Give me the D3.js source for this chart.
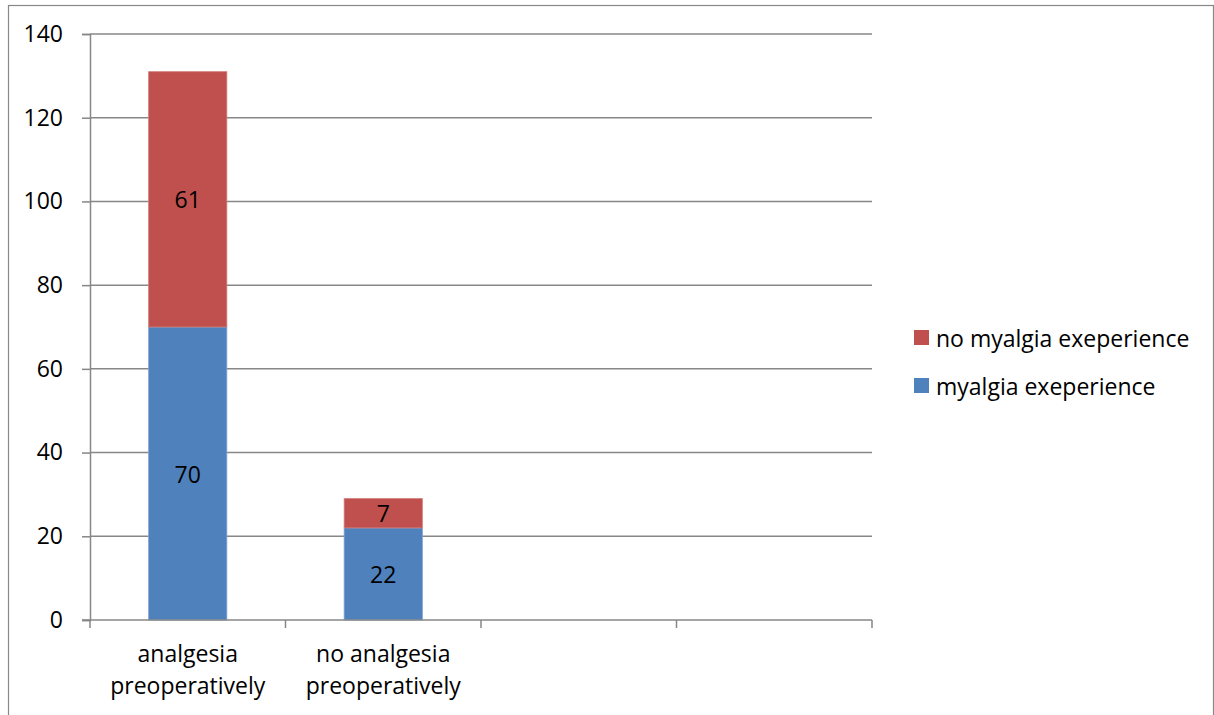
<!DOCTYPE html>
<html>
<head>
<meta charset="utf-8">
<script src="https://cdn.jsdelivr.net/npm/d3@7"></script>
<style>
  html, body { margin: 0; padding: 0; background: #fff; overflow: hidden; }
  svg { display: block; }
  text { font-family: "Open Sans", "Liberation Sans", sans-serif; fill: #000; }
</style>
</head>
<body>
<svg id="chart" width="1214" height="715"></svg>
<script>
// ---- data ----
const categories = ["analgesia preoperatively", "no analgesia preoperatively", "", ""];
const categoryLines = [["analgesia", "preoperatively"], ["no analgesia", "preoperatively"], [], []];
const myalgia = [70, 22, null, null];        // "myalgia exeperience"
const noMyalgia = [61, 7, null, null];       // "no myalgia exeperience"
const seriesNames = ["myalgia exeperience", "no myalgia exeperience"];
const seriesColors = ["#4F81BD", "#C0504D"];
const yTicks = [0, 20, 40, 60, 80, 100, 120, 140];

// ---- layout ----
const svg = d3.select("#chart");
const plot = { left: 90, right: 872, top: 34, bottom: 620 };
const gridColor = "#878787";
const fontSize = 23;

// outer chart border
svg.append("rect")
  .attr("x", 8.5).attr("y", 5.5)
  .attr("width", 1205).attr("height", 730)
  .attr("fill", "none").attr("stroke", "#888").attr("stroke-width", 1.2);

const idx = categories.map((c, i) => i);
const x = d3.scaleBand().domain(idx).range([plot.left, plot.right])
  .paddingInner(0.6).paddingOuter(0.3);
const y = d3.scaleLinear().domain([0, 140]).range([plot.bottom, plot.top]);

// gridlines + y ticks
const yAxis = d3.axisLeft(y).tickValues(yTicks).tickSize(8).tickPadding(19);
const gy = svg.append("g").attr("transform", `translate(${plot.left},0)`).call(yAxis);
gy.select(".domain").attr("stroke", gridColor).attr("stroke-width", 1.5);
gy.selectAll(".tick line").attr("stroke", gridColor).attr("stroke-width", 1.5);
gy.selectAll(".tick text").style("font-size", fontSize + "px").attr("fill", "#000")
  .style("font-family", '"Open Sans", "Liberation Sans", sans-serif');
svg.append("g").selectAll("line").data(yTicks.filter(t => t > 0)).join("line")
  .attr("x1", plot.left).attr("x2", plot.right)
  .attr("y1", d => y(d)).attr("y2", d => y(d))
  .attr("stroke", gridColor).attr("stroke-width", 1.5);

// stacked data
const rows = idx.map(i => ({ i, a: myalgia[i], b: noMyalgia[i] })).filter(r => r.a != null);
const stack = d3.stack().keys(["a", "b"])(rows);

const bars = svg.append("g");
stack.forEach((layer, k) => {
  bars.selectAll(null).data(layer).join("rect")
    .attr("x", d => x(d.data.i))
    .attr("width", x.bandwidth())
    .attr("y", d => y(d[1]))
    .attr("height", d => y(d[0]) - y(d[1]))
    .attr("fill", seriesColors[k])
    .attr("stroke", k === 0 ? "#7DA2D1" : "#D07D7A")
    .attr("stroke-width", 0.8);
  bars.selectAll(null).data(layer).join("text")
    .attr("x", d => x(d.data.i) + x.bandwidth() / 2)
    .attr("y", d => (y(d[0]) + y(d[1])) / 2)
    .attr("text-anchor", "middle")
    .attr("dominant-baseline", "central")
    .style("font-size", fontSize + "px")
    .text(d => d[1] - d[0]);
});

// x axis
const xAxisG = svg.append("g");
xAxisG.append("line")
  .attr("x1", plot.left - 8).attr("x2", plot.right)
  .attr("y1", plot.bottom).attr("y2", plot.bottom)
  .attr("stroke", gridColor).attr("stroke-width", 1.5);
const step = x.step();
const boundaries = d3.range(categories.length + 1).map(k => plot.left + k * step);
xAxisG.selectAll("line.tk").data(boundaries).join("line").attr("class", "tk")
  .attr("x1", d => d).attr("x2", d => d)
  .attr("y1", plot.bottom).attr("y2", plot.bottom + 8)
  .attr("stroke", gridColor).attr("stroke-width", 1.5);
idx.forEach(i => {
  const t = xAxisG.append("text")
    .attr("text-anchor", "middle")
    .style("font-size", fontSize + "px");
  categoryLines[i].forEach((ln, j) => {
    t.append("tspan").attr("x", x(i) + x.bandwidth() / 2).attr("y", 662 + j * 32).text(ln);
  });
});

// legend
const legendItems = [
  { name: seriesNames[1], color: seriesColors[1] },
  { name: seriesNames[0], color: seriesColors[0] }
];
const lg = svg.append("g").attr("transform", "translate(914,330)");
legendItems.forEach((d, k) => {
  const g = lg.append("g").attr("transform", `translate(0,${k * 48})`);
  g.append("rect").attr("width", 15).attr("height", 15).attr("fill", d.color);
  g.append("text").attr("x", 22).attr("y", 7.5).attr("dominant-baseline", "central")
    .style("font-size", fontSize + "px").text(d.name);
});
</script>
</body>
</html>
